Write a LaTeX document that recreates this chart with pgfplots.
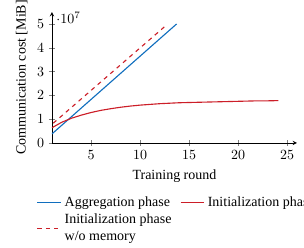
\documentclass[border=0pt]{standalone}
\usepackage{fontspec}
\setmainfont{Liberation Serif}
\usepackage{pgfplots}
\pgfplotsset{compat=1.18}
\definecolor{cblue}{RGB}{16,110,190}
\definecolor{cred}{RGB}{204,30,40}
\begin{document}
\begin{tikzpicture}
\begin{axis}[
  scale only axis,
  width=175pt, height=93.5pt,
  axis lines=left,
  xmin=1, xmax=26, ymin=0, ymax=5.5e7,
  xtick={5,10,15,20,25},
  ytick={0,1e7,2e7,3e7,4e7,5e7},
  every y tick scale label/.style={at={(axis cs:1,5.02e7)}, anchor=south west, inner sep=0pt, xshift=3pt},
  xlabel={Training round},
  ylabel={Communication cost [MiB]},
  legend columns=2,
  legend style={draw=none, fill=none, at={(-14pt,-34pt)}, anchor=north west,
    /tikz/every even column/.append style={column sep=4pt},
    cells={anchor=west, align=left}},
]
\addplot[cblue, thick] coordinates {(1,0.38e7) (13.72,5.0e7)};
\addlegendentry{Aggregation phase}
\addplot[cred, thick] coordinates {
(1,0.64e7) (2,0.87e7) (3,1.04e7) (4,1.17e7) (5,1.28e7) (6,1.37e7) (7,1.44e7) (8,1.50e7)
(9,1.55e7) (10,1.59e7) (11,1.62e7) (12,1.65e7) (13,1.67e7) (14,1.69e7) (15,1.70e7)
(16,1.71e7) (17,1.72e7) (18,1.73e7) (19,1.74e7) (20,1.75e7) (21,1.76e7) (22,1.77e7)
(23,1.77e7) (24.1,1.78e7)};
\addlegendentry{Initialization phase}
\addplot[cred, thick, dashed] coordinates {(1.13,0.83e7) (12.7,4.96e7)};
\addlegendentry{Initialization phase\\w/o memory}
\end{axis}
\pgfresetboundingbox
\useasboundingbox (-37.1pt,-74.3pt) rectangle (180pt,102.1pt);
\end{tikzpicture}
\end{document}
